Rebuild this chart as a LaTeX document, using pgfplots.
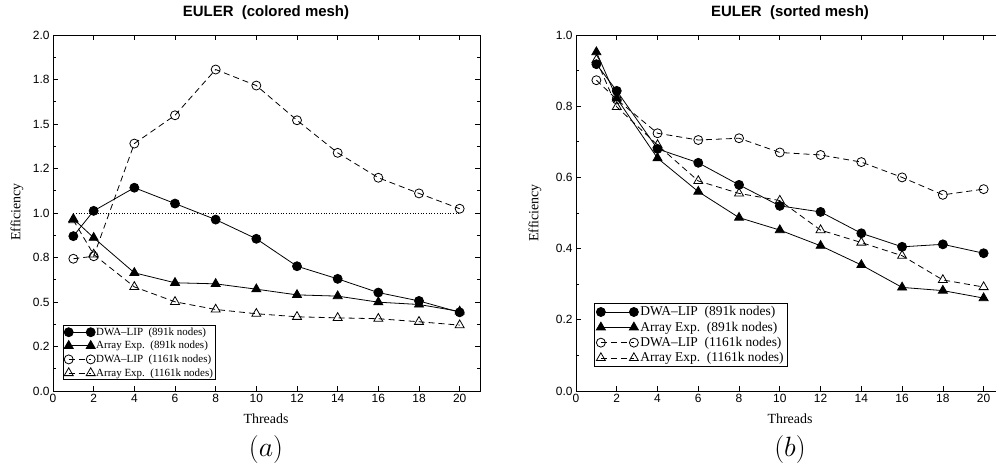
\documentclass[border=0pt]{standalone}
\usepackage{pgfplots}
\usepackage{pgfplotstable}
\pgfplotsset{compat=1.18}
\usepackage{fontspec}
\setmainfont{Liberation Serif}
\setsansfont{Liberation Sans}

\pgfplotstableread{
x dwa891 arr891 dwa1161 arr1161
1 0.870 0.967 0.743 0.960
2 1.012 0.861 0.757 0.767
4 1.142 0.664 1.390 0.585
6 1.053 0.608 1.549 0.501
8 0.963 0.602 1.806 0.458
10 0.855 0.572 1.716 0.434
12 0.701 0.540 1.521 0.417
14 0.630 0.533 1.338 0.411
16 0.553 0.499 1.198 0.406
18 0.506 0.486 1.110 0.389
20 0.442 0.447 1.024 0.370
}\colored

\pgfplotstableread{
x dwa891 arr891 dwa1161 arr1161
1 0.918 0.952 0.873 0.930
2 0.843 0.822 0.819 0.798
4 0.680 0.654 0.724 0.691
6 0.641 0.560 0.705 0.590
8 0.579 0.487 0.710 0.555
10 0.520 0.452 0.670 0.535
12 0.503 0.408 0.663 0.452
14 0.443 0.354 0.643 0.417
16 0.405 0.291 0.600 0.380
18 0.412 0.282 0.551 0.312
20 0.387 0.261 0.567 0.292
}\sorted

\pgfplotsset{
  eff/.style={
    scale only axis,
    anchor=south west,
    axis line style={line width=0.8bp},
    tick align=inside,
    xtick={0,2,...,20},
    xmin=0, xmax=21, ymin=0,
    minor y tick num=1,
    ticklabel style={font=\sffamily\fontsize{12}{12}\selectfont},
    /pgf/number format/assume math mode=true,
    major tick length=5bp, minor tick length=3bp,
    tick style={line width=0.7bp, black},
    legend cell align=left,
  },
  s1/.style={black, line width=0.8bp, solid, mark=*, mark size=4.5bp, mark options={solid}},
  s2/.style={black, line width=0.8bp, solid, mark=triangle*, mark size=5.2bp, mark options={solid}},
  s3/.style={black, line width=0.8bp, dash pattern=on 6bp off 4bp, mark=o, mark size=4.5bp, mark options={solid}},
  s4/.style={black, line width=0.8bp, dash pattern=on 6bp off 4bp, mark=triangle, mark size=5.2bp, mark options={solid}},
}

\begin{document}
\begin{tikzpicture}
% ---------- (a) colored mesh ----------
\begin{axis}[eff,
  at={(53bp,81bp)}, width=427bp, height=356bp,
  ymax=2.0,
  ytick={0,0.25,0.5,0.75,1.0,1.25,1.5,1.75,2.0},
  yticklabels={0.0,0.2,0.5,0.8,1.0,1.2,1.5,1.8,2.0},
]
\addplot[black, dotted, line width=0.7bp, forget plot] coordinates {(1,1) (20,1)};
\addplot[s4] table[x=x, y=arr1161] {\colored};
\addplot[s3] table[x=x, y=dwa1161] {\colored};
\addplot[s2] table[x=x, y=arr891] {\colored};
\addplot[s1] table[x=x, y=dwa891] {\colored};
\end{axis}
\begin{axis}[eff,
  at={(53bp,81bp)}, width=427bp, height=356bp,
  ymax=2.0, hide axis,
  legend image code/.code={\draw[#1] plot coordinates {(0bp,0bp) (22bp,0bp)};},
  legend style={at={(0.023,0.031)}, anchor=south west, draw=black, line width=0.8bp,
    font=\fontsize{11}{11}\selectfont, inner xsep=1bp, inner ysep=1bp, row sep=2.5bp,
    nodes={inner xsep=1bp, inner ysep=1bp}},
]
\addlegendimage{s1}\addlegendentry{DWA--LIP\ \ (891k nodes)}
\addlegendimage{s2}\addlegendentry{Array Exp.\ \ (891k nodes)}
\addlegendimage{s3}\addlegendentry{DWA--LIP\ \ (1161k nodes)}
\addlegendimage{s4}\addlegendentry{Array Exp.\ \ (1161k nodes)}
\end{axis}

% ---------- (b) sorted mesh ----------
\begin{axis}[eff,
  at={(576bp,81bp)}, width=428bp, height=356bp,
  ymax=1.0,
  ytick={0,0.2,0.4,0.6,0.8,1.0},
  yticklabels={0.0,0.2,0.4,0.6,0.8,1.0},
]
\addplot[s4] table[x=x, y=arr1161] {\sorted};
\addplot[s3] table[x=x, y=dwa1161] {\sorted};
\addplot[s2] table[x=x, y=arr891] {\sorted};
\addplot[s1] table[x=x, y=dwa891] {\sorted};
\end{axis}
\begin{axis}[eff,
  at={(576bp,81bp)}, width=428bp, height=356bp,
  ymax=1.0, hide axis,
  legend image code/.code={\draw[#1] plot coordinates {(0bp,0bp) (33bp,0bp)};},
  legend style={at={(0.042,0.068)}, anchor=south west, draw=black, line width=0.8bp,
    font=\fontsize{13.5}{13.5}\selectfont, inner xsep=2bp, inner ysep=2bp, row sep=2.5bp,
    nodes={inner xsep=2bp, inner ysep=1bp}},
]
\addlegendimage{s1}\addlegendentry{DWA--LIP\ \ (891k nodes)}
\addlegendimage{s2}\addlegendentry{Array Exp.\ \ (891k nodes)}
\addlegendimage{s3}\addlegendentry{DWA--LIP\ \ (1161k nodes)}
\addlegendimage{s4}\addlegendentry{Array Exp.\ \ (1161k nodes)}
\end{axis}

% ---------- text ----------
\node[font=\sffamily\bfseries\fontsize{15}{15}\selectfont] at (266bp,459bp) {EULER\ \ (colored mesh)};
\node[font=\sffamily\bfseries\fontsize{15}{15}\selectfont] at (790bp,459bp) {EULER\ \ (sorted mesh)};
\node[font=\fontsize{14}{14}\selectfont] at (266bp,53bp) {Threads};
\node[font=\fontsize{14}{14}\selectfont] at (790bp,53bp) {Threads};
\node[font=\fontsize{14}{14}\selectfont, rotate=90] at (17bp,260bp) {Efficiency};
\node[font=\fontsize{14}{14}\selectfont, rotate=90] at (535bp,259bp) {Efficiency};
\node[font=\fontsize{20}{20}\selectfont, scale=1.35] at (266bp,22bp) {$(a)$};
\node[font=\fontsize{20}{20}\selectfont, scale=1.35] at (790bp,22bp) {$(b)$};

\pgfresetboundingbox
\useasboundingbox (0bp,0bp) rectangle (996bp,472bp);
\end{tikzpicture}
\end{document}
